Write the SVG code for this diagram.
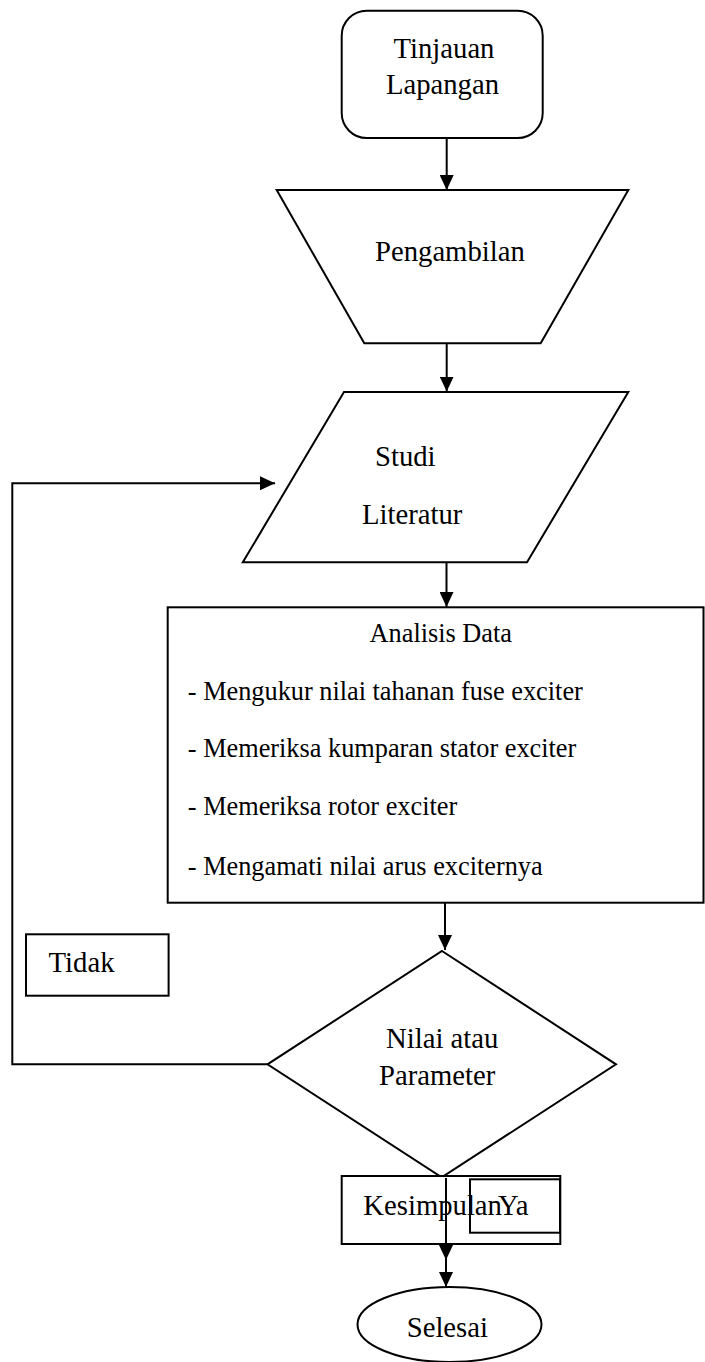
<svg xmlns="http://www.w3.org/2000/svg" width="705" height="1362" viewBox="0 0 705 1362">
<style>
.s{fill:#fff;stroke:#000;stroke-width:2}
.t{font-family:"Liberation Serif","Times New Roman",serif;font-size:28.7px;fill:#000}
.b{font-family:"Liberation Serif","Times New Roman",serif;font-size:26.3px;fill:#000}
.c{fill:none;stroke:#000;stroke-width:2}
</style>
<defs>
<marker id="ah" markerWidth="15" markerHeight="14" refX="15" refY="7" orient="auto" markerUnits="userSpaceOnUse">
<path d="M0,0 L15,7 L0,14 z" fill="#000"/>
</marker>
</defs>
<rect width="705" height="1362" fill="#fff"/>

<g id="node-tinjauan">
<rect class="s" x="341.7" y="10.7" width="201" height="127.3" rx="25" ry="25"/>
<text class="t" x="444" y="58" text-anchor="middle">Tinjauan</text>
<text class="t" x="442.5" y="94" text-anchor="middle">Lapangan</text>
</g>

<g id="node-pengambilan">
<polygon class="s" points="276.7,190 628.3,190 540.7,343.3 364.3,343.3"/>
<text class="t" x="375" y="260.7">Pengambilan</text>
</g>

<g id="node-studi">
<polygon class="s" points="344,392 628.3,392 527,562.3 242.8,562.3"/>
<text class="t" x="375" y="466">Studi</text>
<text class="t" x="362" y="524">Literatur</text>
</g>

<g id="node-analisis">
<rect class="s" x="167.7" y="607.3" width="535.8" height="295.4"/>
<text class="b" x="369.6" y="641.7">Analisis Data</text>
<text class="b" x="187.8" y="700">- Mengukur nilai tahanan fuse exciter</text>
<text class="b" x="187.8" y="757">- Memeriksa kumparan stator exciter</text>
<text class="b" x="187.8" y="815">- Memeriksa rotor exciter</text>
<text class="b" x="187.8" y="874.5">- Mengamati nilai arus exciternya</text>
</g>

<g id="node-tidak">
<rect class="s" x="26" y="934.3" width="142.6" height="61.4"/>
<text class="t" x="48.6" y="972.3">Tidak</text>
</g>

<g id="node-keputusan">
<polygon class="s" points="442,951 616,1064.3 441.7,1177.3 267.5,1064.3"/>
<text class="t" x="386" y="1048.3">Nilai atau</text>
<text class="t" x="379" y="1085">Parameter</text>
</g>

<g id="node-kesimpulan">
<rect class="s" x="341.7" y="1176" width="218.6" height="68"/>
<text class="t" x="363.3" y="1215">Kesimpulan</text>
</g>

<g id="node-ya">
<rect class="c" x="470" y="1179.3" width="90" height="53.4"/>
<text class="t" x="498" y="1215">Ya</text>
</g>

<g id="node-selesai">
<ellipse class="s" cx="449.5" cy="1324.5" rx="92" ry="37.5"/>
<text class="t" x="406.7" y="1336.7">Selesai</text>
</g>

<g id="connectors">
<path class="c" d="M446.7,138 L446.7,190" marker-end="url(#ah)"/>
<path class="c" d="M446.7,343.3 L446.7,391.5" marker-end="url(#ah)"/>
<path class="c" d="M446.5,562.3 L446.5,607" marker-end="url(#ah)"/>
<path class="c" d="M445,902.7 L445,950" marker-end="url(#ah)"/>
<path class="c" d="M267.5,1064.3 L12.3,1064.3 L12.3,483.3 L275,483.3" marker-end="url(#ah)"/>
<path class="c" d="M446,1178 L446,1260" marker-end="url(#ah)"/>
<path class="c" d="M446,1245 L446,1287" marker-end="url(#ah)"/>
</g>
</svg>
